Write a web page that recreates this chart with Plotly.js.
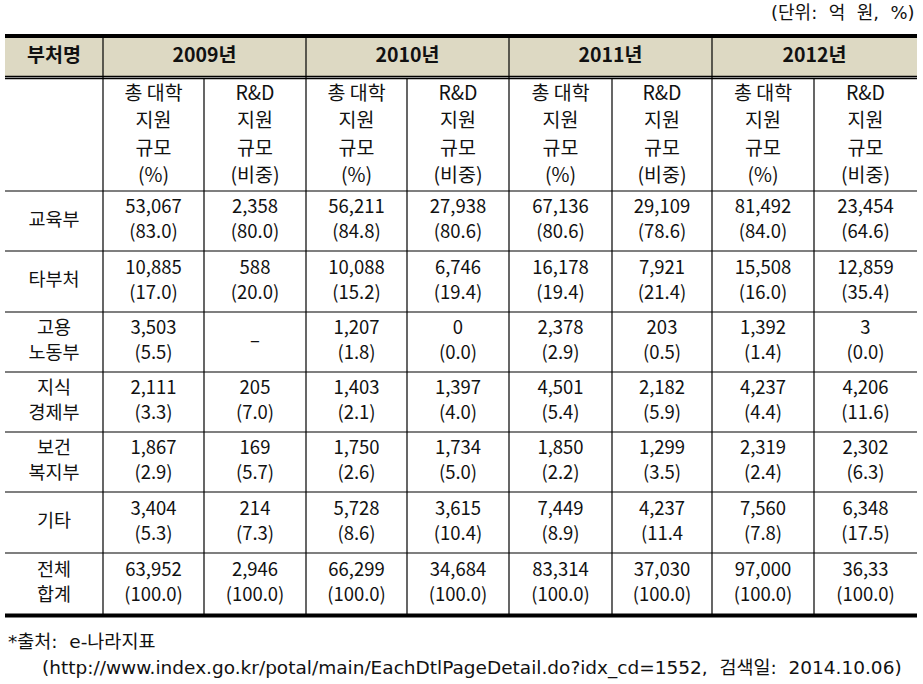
<!DOCTYPE html>
<html>
<head>
<meta charset="utf-8">
<script src="https://cdn.plot.ly/plotly-3.0.1.min.js"></script>
<style>html,body{margin:0;padding:0;background:#fff;}#chart{width:923px;height:684px;}</style>
</head>
<body>
<div id="chart"></div>
<script>
// ---------- DATA ----------
const headerCorner = '부처명';
const years = ['2009년', '2010년', '2011년', '2012년'];
const subHeaders = [['총 대학', '지원', '규모', '(%)'], ['R&D', '지원', '규모', '(비중)']];
const departments = [['교육부'], ['타부처'], ['고용', '노동부'], ['지식', '경제부'], ['보건', '복지부'], ['기타'], ['전체', '합계']];
// 총 대학 지원 규모 (억 원), per department, per year
const totalAmount = [
  ['53,067', '56,211', '67,136', '81,492'],
  ['10,885', '10,088', '16,178', '15,508'],
  ['3,503', '1,207', '2,378', '1,392'],
  ['2,111', '1,403', '4,501', '4,237'],
  ['1,867', '1,750', '1,850', '2,319'],
  ['3,404', '5,728', '7,449', '7,560'],
  ['63,952', '66,299', '83,314', '97,000']
];
const totalShare = [
  ['(83.0)', '(84.8)', '(80.6)', '(84.0)'],
  ['(17.0)', '(15.2)', '(19.4)', '(16.0)'],
  ['(5.5)', '(1.8)', '(2.9)', '(1.4)'],
  ['(3.3)', '(2.1)', '(5.4)', '(4.4)'],
  ['(2.9)', '(2.6)', '(2.2)', '(2.4)'],
  ['(5.3)', '(8.6)', '(8.9)', '(7.8)'],
  ['(100.0)', '(100.0)', '(100.0)', '(100.0)']
];
// R&D 지원 규모 (억 원), per department, per year
const rdAmount = [
  ['2,358', '27,938', '29,109', '23,454'],
  ['588', '6,746', '7,921', '12,859'],
  ['–', '0', '203', '3'],
  ['205', '1,397', '2,182', '4,206'],
  ['169', '1,734', '1,299', '2,302'],
  ['214', '3,615', '4,237', '6,348'],
  ['2,946', '34,684', '37,030', '36,33']
];
const rdShare = [
  ['(80.0)', '(80.6)', '(78.6)', '(64.6)'],
  ['(20.0)', '(19.4)', '(21.4)', '(35.4)'],
  [null, '(0.0)', '(0.5)', '(0.0)'],
  ['(7.0)', '(4.0)', '(5.9)', '(11.6)'],
  ['(5.7)', '(5.0)', '(3.5)', '(6.3)'],
  ['(7.3)', '(10.4)', '(11.4', '(17.5)'],
  ['(100.0)', '(100.0)', '(100.0)', '(100.0)']
];
const unitNote = '(단위:\u00a0\u00a0억\u00a0\u00a0원,\u00a0\u00a0%)';
const sourceLine1 = '*출처:\u00a0\u00a0e-나라지표';
const sourceLine2 = '(http://www.index.go.kr/potal/main/EachDtlPageDetail.do?idx_cd=1552,\u00a0\u00a0검색일:\u00a0\u00a02014.10.06)';

// ---------- LAYOUT GEOMETRY ----------
const colEdges = [5, 103, 204, 306, 407, 509, 612, 712, 814, 917];
const headerTop = 38, headerBottom = 76, subTop = 79, subBottom = 191;
const rowEdges = [191, 251, 312, 372, 432, 492, 553, 614];
const FONT = '"Noto Sans CJK KR", "Noto Sans", sans-serif';
const NOTEFONT = '"DejaVu Sans", "Noto Sans CJK KR", sans-serif';
const TXT = '#111';
const fs = 18.5;
const bodyGap = 25, subGap = 27.3;

const mid = (a, b) => (a + b) / 2;
const colCenter = j => mid(colEdges[j], colEdges[j + 1]);
const rowCenter = i => mid(rowEdges[i], rowEdges[i + 1]);

const traces = [];
function textTrace(xs, ys, texts, size, bold) {
  traces.push({
    type: 'scatter', mode: 'text', x: xs, y: ys, text: texts,
    textposition: 'middle center', hoverinfo: 'skip', showlegend: false,
    textfont: {family: FONT, size: size, color: TXT, weight: bold ? 700 : 400}
  });
}
// push a stack of lines centred at (cx, cy)
function stack(store, lines, cx, cy, gap) {
  const n = lines.length;
  lines.forEach((t, m) => {
    store.x.push(cx); store.y.push(cy + (m - (n - 1) / 2) * gap); store.t.push(t);
  });
}

// header row
const H = {x: [], y: [], t: []};
stack(H, [headerCorner], colCenter(0), mid(headerTop, headerBottom), 0);
years.forEach((y, k) => stack(H, [y], mid(colEdges[1 + 2 * k], colEdges[3 + 2 * k]), mid(headerTop, headerBottom), 0));
textTrace(H.x, H.y, H.t, 19.5, true);

// sub header
const S = {x: [], y: [], t: []};
years.forEach((y, k) => {
  subHeaders.forEach((s, m) => stack(S, s, colCenter(1 + 2 * k + m), mid(subTop, subBottom) + 1, subGap));
});
textTrace(S.x, S.y, S.t, 19.5, false);

// department labels
const D = {x: [], y: [], t: []};
departments.forEach((d, i) => stack(D, d, colCenter(0), rowCenter(i), bodyGap));
textTrace(D.x, D.y, D.t, fs, false);

// body cells
const B = {x: [], y: [], t: []};
departments.forEach((d, i) => {
  years.forEach((y, k) => {
    stack(B, [totalAmount[i][k], totalShare[i][k]], colCenter(1 + 2 * k), rowCenter(i), bodyGap);
    const rd = rdShare[i][k] === null ? [rdAmount[i][k]] : [rdAmount[i][k], rdShare[i][k]];
    stack(B, rd, colCenter(2 + 2 * k), rowCenter(i), bodyGap);
  });
});
textTrace(B.x, B.y, B.t, fs, false);

// ---------- SHAPES ----------
const shapes = [];
const line = (x0, y0, x1, y1, w) => shapes.push({type: 'line', xref: 'x', yref: 'y', x0, y0, x1, y1, line: {color: '#000', width: w}});
shapes.push({type: 'rect', xref: 'x', yref: 'y', x0: colEdges[0], x1: colEdges[9], y0: headerTop, y1: headerBottom, fillcolor: '#ddd9c3', line: {width: 0}, layer: 'below'});
line(colEdges[0], 36, colEdges[9], 36, 4);
line(colEdges[0], headerBottom + 0.5, colEdges[9], headerBottom + 0.5, 1.3);
line(colEdges[0], subTop - 0.5, colEdges[9], subTop - 0.5, 1.3);
rowEdges.slice(0, -1).forEach(y => line(colEdges[0], y, colEdges[9], y, 1.2));
line(colEdges[0], 615.5, colEdges[9], 615.5, 4);
for (let j = 1; j <= 8; j++) {
  line(colEdges[j], (j % 2 === 1) ? headerTop : subTop, colEdges[j], 614, 1.2);
}

// ---------- ANNOTATIONS ----------
const annotations = [
  {x: colEdges[9], y: 12, xref: 'x', yref: 'y', text: unitNote, showarrow: false, xanchor: 'right', yanchor: 'middle', font: {family: NOTEFONT, size: 18, color: TXT}},
  {x: 6, y: 641, xref: 'x', yref: 'y', text: sourceLine1, showarrow: false, xanchor: 'left', yanchor: 'middle', font: {family: NOTEFONT, size: 18.5, color: TXT}},
  {x: 40, y: 668, xref: 'x', yref: 'y', text: sourceLine2, showarrow: false, xanchor: 'left', yanchor: 'middle', font: {family: NOTEFONT, size: 18.5, color: TXT}}
];

Plotly.newPlot('chart', traces, {
  width: 923, height: 684,
  margin: {l: 0, r: 0, t: 0, b: 0},
  paper_bgcolor: '#fff', plot_bgcolor: '#fff',
  xaxis: {range: [0, 923], visible: false, fixedrange: true},
  yaxis: {range: [684, 0], visible: false, fixedrange: true},
  shapes: shapes, annotations: annotations, showlegend: false
}, {staticPlot: true});
</script>
</body>
</html>
